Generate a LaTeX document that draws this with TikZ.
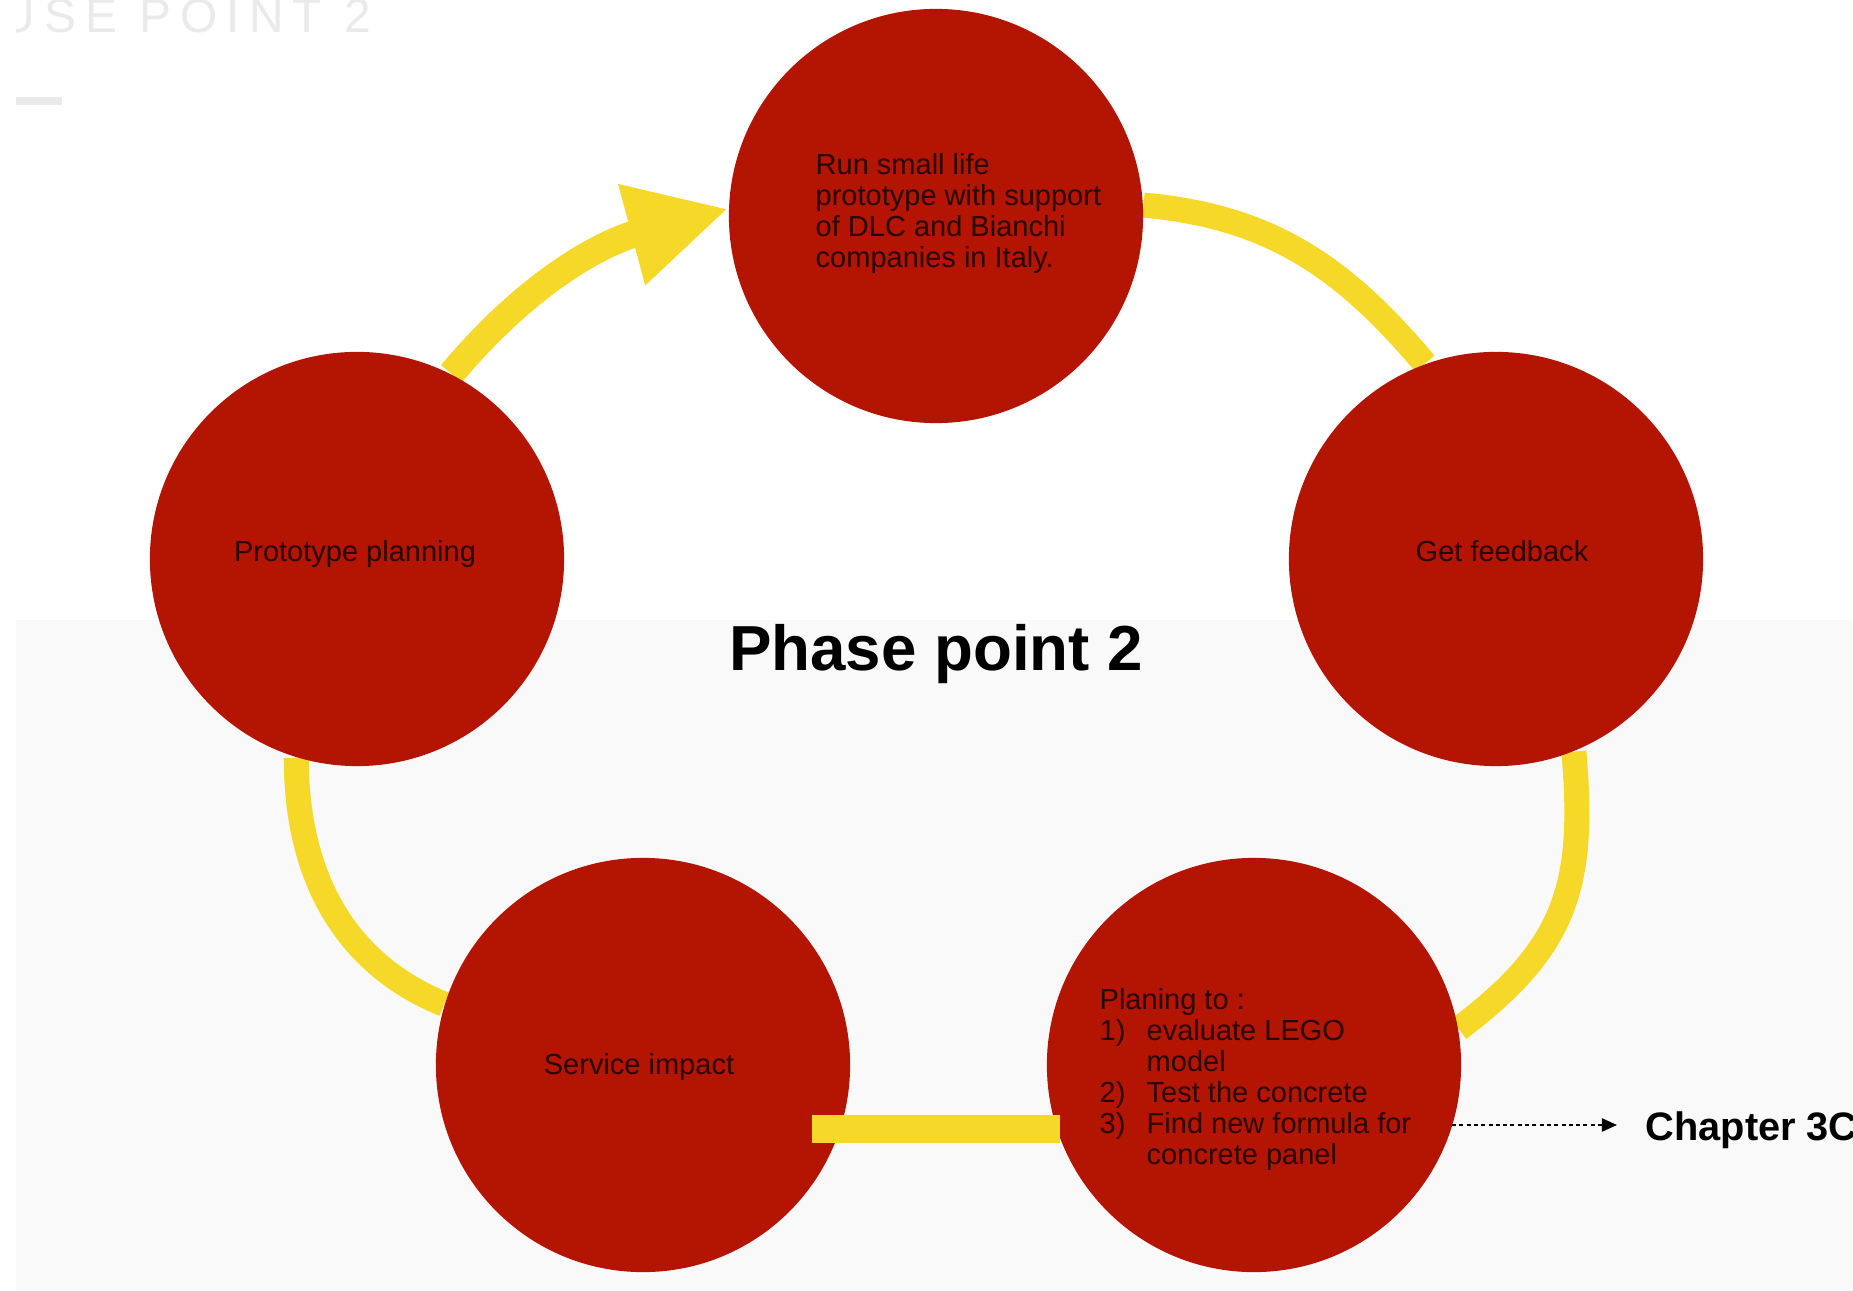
\documentclass[tikz,border=0pt]{standalone}
\usepackage{fontspec}
\setmainfont{Liberation Sans}
\newfontfamily\ghostfont[LetterSpace=19]{Liberation Sans}
\usetikzlibrary{arrows.meta,calc}

\definecolor{discred}{RGB}{180,20,2}
\definecolor{linkyellow}{RGB}{245,216,40}
\definecolor{panelgrey}{RGB}{249,249,249}
\definecolor{inktext}{RGB}{40,6,3}
\definecolor{ghost}{RGB}{234,234,234}

\pgfdeclarelayer{back}
\pgfdeclarelayer{links}
\pgfsetlayers{back,links,main}

\begin{document}
\begin{tikzpicture}[x=0.01cm,y=0.01cm,
  disc/.style={circle, fill=discred, minimum size=4.14cm, inner sep=0pt},
  link/.style={draw=linkyellow, line width=0.25cm},
  disctext/.style={text=inktext, font=\fontsize{8.25}{8.8}\selectfont, inner sep=0pt},
  headline/.style={text=black, font=\fontsize{18.1}{20}\selectfont\bfseries, inner sep=0pt},
  sidenote/.style={text=black, font=\fontsize{11.3}{13}\selectfont\bfseries, inner sep=0pt},
  pointer/.style={draw=black, line width=0.02cm, dash pattern=on 0.04cm off 0.033cm,
    -{Triangle[length=0.15cm,width=0.13cm]}}]

\useasboundingbox (0,0) rectangle (1853,-1291);

% page and lower panel
\begin{pgfonlayer}{back}
  \fill[white] (0,0) rectangle (1853,-1291);
  \fill[panelgrey] (16,-620) rectangle (1853,-1291);
  \fill[ghost] (16,-97) rectangle (62,-105);
  \begin{scope}
    \clip (16,0) rectangle (700,-200);
    \node[anchor=base west, inner sep=0pt, text=ghost,
      font=\ghostfont\fontsize{13.6}{15}\selectfont] (ghosttitle) at (0,-33) {USE POINT 2};
  \end{scope}
\end{pgfonlayer}

% the five stages
\node[disc] (top)   at (936,-216)  {};
\node[disc] (left)  at (357,-559)  {};
\node[disc] (right) at (1496,-559) {};
\node[disc] (bl)    at (643,-1065) {};
\node[disc] (br)    at (1254,-1065) {};

% cycle connectors, tucked under the discs
\begin{pgfonlayer}{links}
  \draw[link, line width=0.27cm, -{Triangle[length=1cm,width=0.97cm]}]
    (left.63) to[out=50,in=195] (top.178);
  \draw[link] (top.3) to[out=-5,in=130] (right.110);
  \draw[link] (right.-68) to[out=-85,in=37,looseness=1.15] (br.10);
  \draw[link] (left.-107) to[out=-90,in=158] (bl.163);
\end{pgfonlayer}

% straight bar between the two lower discs
\fill[linkyellow] ($(bl.center)+(169,-50)$) rectangle ($(br.center)+(-194,-78)$);

% stage texts
\node[disctext, align=left, anchor=north west] (toptext) at (815,-153)
  {Run small life\\prototype with support\\of DLC and Bianchi\\companies in Italy.};
\node[disctext, anchor=base] (lefttext)  at (355,-561)  {Prototype planning};
\node[disctext, anchor=base] (righttext) at (1502,-561) {Get feedback};
\node[disctext, anchor=base] (bltext)    at (639,-1074) {Service impact};
\node[disctext, align=left, anchor=north west] (brtext) at (1099,-988)
  {Planing to :\\
   \makebox[0.47cm][l]{1)}evaluate LEGO\\
   \hspace*{0.47cm}model\\
   \makebox[0.47cm][l]{2)}Test the concrete\\
   \makebox[0.47cm][l]{3)}Find new formula for\\
   \hspace*{0.47cm}concrete panel};

% centre title
\node[headline, anchor=base] (phase) at (936,-671) {Phase point 2};

% reference out to the next chapter
\node[sidenote, anchor=base west] (chapter) at (1645,-1140) {Chapter 3C};
\coordinate (chapterin) at (1617,-1125);
\draw[pointer] ($(br.center)+(198,-60)$) -- (chapterin);

\end{tikzpicture}
\end{document}
